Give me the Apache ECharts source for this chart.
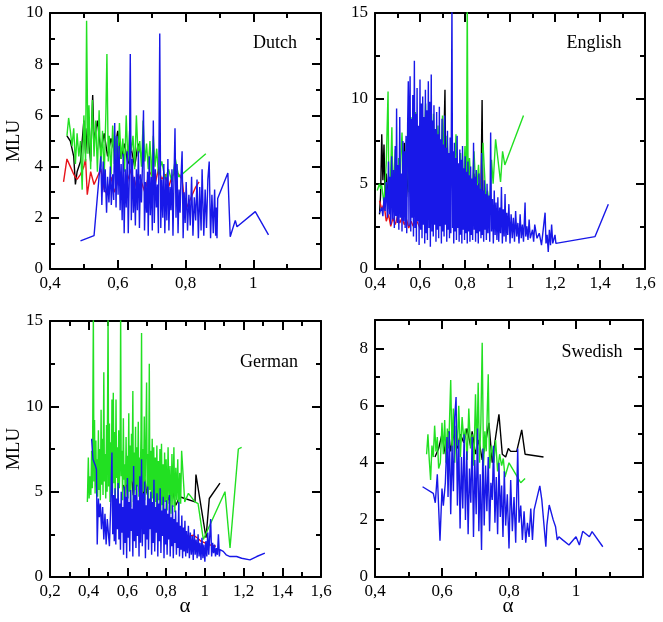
<!DOCTYPE html>
<html><head><meta charset="utf-8">
<script src="https://cdn.jsdelivr.net/npm/echarts@6/dist/echarts.min.js"></script>
<style>html,body{margin:0;padding:0;background:#fff}#c{width:663px;height:622px}</style>
</head><body><div id="c"></div>
<script>
// ---------------- DATA (alpha, MLU) ----------------
const panelNames = ['Dutch', 'English', 'German', 'Swedish'];
// axis ranges: [min, max, major, minor]
const dutchX = [0.4, 1.2, 0.2, 0.1], dutchY = [0, 10, 2, 1];
const englishX = [0.4, 1.6, 0.2, 0.1], englishY = [0, 15, 5, 2.5];
const germanX = [0.2, 1.6, 0.2, 0.1], germanY = [0, 15, 5, 2.5];
const swedishX = [0.4, 1.2, 0.2, 0.1], swedishY = [0, 9, 2, 1];

const dutchBlack = [[0.45,5.2],[0.46,5.0],[0.47,4.4],[0.475,3.3],[0.48,3.8],[0.49,4.2],[0.5,5.8],[0.505,4.5],[0.51,5.5],[0.52,4.2],[0.526,6.8],[0.53,5.0],[0.54,5.8],[0.55,4.6],[0.56,5.3],[0.57,4.4],[0.58,5.1],[0.59,4.6],[0.6,5.4],[0.61,4.3],[0.62,4.9],[0.63,4.1],[0.64,4.7],[0.65,4.0],[0.66,4.9],[0.67,4.4],[0.68,4.6]];
const dutchRed = [[0.44,3.4],[0.45,4.3],[0.46,4.0],[0.47,3.7],[0.48,3.5],[0.49,3.7],[0.5,4.0],[0.505,4.3],[0.51,2.9],[0.52,3.8],[0.53,3.3],[0.54,3.6],[0.55,3.9],[0.56,3.1],[0.57,2.9],[0.58,3.6],[0.59,3.0],[0.6,3.4],[0.61,3.8],[0.62,2.8],[0.63,3.5],[0.64,3.9],[0.65,3.2],[0.66,3.7],[0.67,3.4],[0.68,3.0],[0.69,3.6],[0.7,3.8],[0.71,3.3],[0.72,3.9],[0.73,3.5],[0.74,3.7],[0.75,3.2],[0.76,3.6],[0.77,3.8],[0.78,3.7],[0.79,3.5],[0.8,2.3],[0.81,2.6],[0.82,2.9],[0.83,3.2],[0.84,3.4]];
const dutchGreen = [[0.45,5.2],[0.455,5.9],[0.46,5.4],[0.465,4.8],[0.47,5.5],[0.475,4.1],[0.48,5.3],[0.485,4.4],[0.49,5.0],[0.495,3.1],[0.5,6.0],[0.505,4.2],[0.508,9.7],[0.512,4.5],[0.515,6.4],[0.52,3.9],[0.525,6.6],[0.53,4.4],[0.535,5.8],[0.54,3.8],[0.545,6.2],[0.55,4.0],[0.555,5.4],[0.56,3.6],[0.565,6.1],[0.568,8.4],[0.572,4.2],[0.575,5.2],[0.58,3.7],[0.585,5.6],[0.59,4.1],[0.595,5.2],[0.6,3.9],[0.605,5.7],[0.61,4.3],[0.615,5.1],[0.62,3.8],[0.625,6.0],[0.63,4.2],[0.635,5.4],[0.64,4.6],[0.645,5.2],[0.65,3.9],[0.655,6.0],[0.66,4.4],[0.665,5.0],[0.67,4.0],[0.675,5.8],[0.68,4.2],[0.685,4.9],[0.69,3.9],[0.695,5.0],[0.7,3.6],[0.705,5.2],[0.71,4.0],[0.715,4.7],[0.72,3.7],[0.73,4.2],[0.74,3.5],[0.75,3.9],[0.76,3.4],[0.77,4.3],[0.78,3.6],[0.79,3.7],[0.86,4.5]];
const dutchBlue = [[0.49,1.1],[0.53,1.3],[0.55,4.4],[0.553,2.5],[0.557,4.2],[0.56,3.0],[0.563,3.9],[0.567,2.2],[0.57,3.6],[0.574,2.6],[0.578,4.0],[0.581,2.5],[0.585,3.7],[0.588,2.7],[0.591,5.7],[0.595,2.4],[0.598,5.2],[0.601,2.9],[0.604,4.8],[0.607,2.3],[0.61,4.1],[0.613,1.9],[0.616,4.5],[0.619,1.4],[0.622,3.9],[0.625,2.4],[0.628,4.6],[0.631,1.4],[0.634,3.5],[0.637,8.4],[0.64,1.9],[0.643,4.3],[0.646,2.2],[0.649,3.6],[0.652,1.7],[0.655,3.9],[0.658,2.3],[0.661,4.6],[0.664,1.6],[0.667,3.7],[0.67,2.6],[0.673,4.1],[0.676,6.2],[0.679,1.5],[0.682,3.4],[0.685,2.2],[0.688,3.8],[0.69,1.3],[0.693,4.4],[0.696,2.1],[0.699,3.6],[0.702,1.5],[0.705,5.8],[0.708,1.8],[0.711,3.9],[0.714,2.4],[0.717,3.3],[0.72,1.4],[0.724,9.2],[0.727,1.6],[0.73,3.5],[0.733,2.0],[0.736,4.1],[0.739,1.4],[0.742,3.6],[0.745,1.9],[0.748,4.3],[0.751,1.5],[0.754,3.2],[0.757,2.3],[0.76,3.9],[0.763,1.3],[0.766,3.5],[0.769,5.5],[0.772,2.0],[0.775,4.1],[0.778,1.4],[0.781,3.1],[0.784,2.2],[0.787,3.7],[0.79,4.6],[0.793,1.2],[0.796,3.0],[0.799,1.8],[0.802,3.4],[0.806,1.5],[0.81,2.9],[0.814,1.7],[0.818,3.6],[0.822,1.3],[0.826,2.8],[0.83,1.9],[0.834,3.5],[0.838,1.2],[0.842,3.2],[0.846,1.5],[0.849,3.9],[0.854,1.3],[0.858,3.1],[0.862,1.6],[0.866,3.5],[0.87,4.2],[0.874,1.2],[0.878,2.9],[0.882,1.4],[0.886,3.1],[0.889,1.3],[0.891,2.4],[0.893,1.2],[0.895,2.75],[0.925,3.75],[0.932,1.26],[0.947,1.9],[0.952,1.65],[1.006,2.24],[1.045,1.33]];

const englishBlack = [[0.42,3.2],[0.425,4.4],[0.43,7.9],[0.435,5.2],[0.44,7.3],[0.445,4.1],[0.45,5.6],[0.46,3.8],[0.47,5.1],[0.48,3.5],[0.49,6.2],[0.5,4.0],[0.51,5.5],[0.52,3.6],[0.53,7.4],[0.54,4.2],[0.55,6.1],[0.56,3.9],[0.57,6.6],[0.58,4.3],[0.59,7.1],[0.6,3.8],[0.61,6.4],[0.62,4.5],[0.63,7.0],[0.64,4.0],[0.65,6.3],[0.66,3.7],[0.67,6.8],[0.68,4.4],[0.69,5.9],[0.7,3.6],[0.711,10.5],[0.715,4.1],[0.72,6.2],[0.73,3.5],[0.74,5.7],[0.75,3.9],[0.76,6.0],[0.77,3.4],[0.78,5.5],[0.79,3.8],[0.8,5.9],[0.81,3.3],[0.82,5.2],[0.83,3.7],[0.84,5.6],[0.85,3.2],[0.86,5.0],[0.87,3.6],[0.876,9.9],[0.88,3.4],[0.89,4.6],[0.9,3.1]];
const englishRed = [[0.42,4.0],[0.43,3.5],[0.44,3.8],[0.45,2.8],[0.46,3.2],[0.47,2.5],[0.48,3.0],[0.49,2.6],[0.5,3.1],[0.51,2.7],[0.52,3.0],[0.53,2.6],[0.54,2.9],[0.55,2.4],[0.56,2.8],[0.57,2.5],[0.58,2.9],[0.59,2.7],[0.6,2.4]];
const englishGreen = [[0.41,4.6],[0.42,5.0],[0.425,4.7],[0.43,4.9],[0.44,3.8],[0.45,6.2],[0.458,10.4],[0.462,3.5],[0.47,5.8],[0.475,8.3],[0.48,4.2],[0.49,7.0],[0.5,3.9],[0.505,6.5],[0.51,4.8],[0.52,8.0],[0.53,3.7],[0.54,7.6],[0.55,4.5],[0.56,8.9],[0.57,4.1],[0.58,9.2],[0.59,4.8],[0.6,8.5],[0.61,3.9],[0.625,9.7],[0.63,4.6],[0.64,8.8],[0.65,5.0],[0.66,9.1],[0.67,4.4],[0.68,8.4],[0.69,5.2],[0.7,9.0],[0.71,4.3],[0.72,7.8],[0.73,4.9],[0.74,7.5],[0.75,4.1],[0.76,7.9],[0.77,4.6],[0.78,6.8],[0.79,4.0],[0.8,7.2],[0.806,3.9],[0.81,16],[0.814,4.4],[0.82,6.5],[0.83,3.8],[0.84,6.9],[0.85,4.2],[0.86,6.1],[0.87,3.6],[0.88,7.4],[0.893,4.0],[0.9,4.6],[0.91,3.5],[0.918,6.4],[0.925,5.0],[0.936,7.6],[0.958,5.1],[0.967,6.9],[0.977,6.1],[1.06,9.0]];
const englishBlue = [[0.42,3.3],[0.43,3.6],[0.435,3.1],[0.44,4.2],[0.445,3.4],[0.45,5.1],[0.455,3.0],[0.46,6.3],[0.463,3.2],[0.467,5.4],[0.47,2.6],[0.474,6.6],[0.478,2.9],[0.482,5.8],[0.486,2.4],[0.49,7.2],[0.493,3.1],[0.496,9.4],[0.499,2.7],[0.503,6.1],[0.506,2.3],[0.51,8.9],[0.513,3.0],[0.517,5.6],[0.52,2.2],[0.524,7.5],[0.527,2.8],[0.531,6.9],[0.534,2.4],[0.538,7.8],[0.541,2.1],[0.545,8.4],[0.548,11.0],[0.551,2.5],[0.554,9.6],[0.556,11.3],[0.559,2.2],[0.562,8.8],[0.565,3.0],[0.568,10.2],[0.571,1.9],[0.575,12.2],[0.578,2.4],[0.581,9.1],[0.584,1.6],[0.587,10.6],[0.59,2.8],[0.593,8.4],[0.596,1.4],[0.6,11.1],[0.603,2.3],[0.606,9.7],[0.609,1.8],[0.612,10.1],[0.615,2.6],[0.618,8.9],[0.621,1.5],[0.624,10.5],[0.627,2.1],[0.63,9.3],[0.633,1.7],[0.637,11.0],[0.64,2.4],[0.643,9.8],[0.646,1.3],[0.65,11.4],[0.653,2.2],[0.656,8.7],[0.659,1.9],[0.662,9.6],[0.665,2.6],[0.668,8.2],[0.671,1.6],[0.674,9.2],[0.677,2.3],[0.68,7.9],[0.683,1.8],[0.686,9.5],[0.689,2.5],[0.692,7.6],[0.695,1.5],[0.698,8.8],[0.701,2.2],[0.704,7.3],[0.707,1.9],[0.71,9.0],[0.713,2.6],[0.716,7.1],[0.719,1.6],[0.722,8.1],[0.725,2.3],[0.728,6.8],[0.731,1.8],[0.734,7.7],[0.737,2.1],[0.742,15.5],[0.745,2.4],[0.747,6.9],[0.75,1.5],[0.753,7.4],[0.756,2.2],[0.759,6.5],[0.762,1.7],[0.765,7.8],[0.768,2.4],[0.771,6.2],[0.774,1.6],[0.777,7.0],[0.78,2.0],[0.783,6.4],[0.786,1.5],[0.789,7.2],[0.792,2.3],[0.795,5.9],[0.798,1.7],[0.801,6.6],[0.804,2.1],[0.807,5.7],[0.81,1.5],[0.813,6.3],[0.816,2.2],[0.819,5.5],[0.822,1.6],[0.825,6.0],[0.828,2.0],[0.831,5.3],[0.834,1.7],[0.838,7.4],[0.841,2.3],[0.844,5.4],[0.847,1.6],[0.85,5.8],[0.853,2.1],[0.856,4.9],[0.859,1.5],[0.862,5.6],[0.865,2.2],[0.868,4.7],[0.871,1.8],[0.874,6.8],[0.877,2.0],[0.88,4.6],[0.883,1.6],[0.886,5.2],[0.889,2.3],[0.892,4.4],[0.895,1.7],[0.898,5.0],[0.902,2.1],[0.906,4.3],[0.91,1.6],[0.914,8.0],[0.918,2.2],[0.922,4.1],[0.926,1.5],[0.93,4.6],[0.934,2.0],[0.938,3.9],[0.942,1.7],[0.946,4.2],[0.95,1.6],[0.954,3.6],[0.958,2.1],[0.962,4.8],[0.966,1.5],[0.97,3.5],[0.974,1.9],[0.978,4.4],[0.982,1.6],[0.986,3.3],[0.99,2.0],[0.995,3.8],[1.0,1.5],[1.005,3.2],[1.01,1.8],[1.015,3.0],[1.02,1.6],[1.025,3.4],[1.03,1.9],[1.035,2.7],[1.04,1.5],[1.045,3.2],[1.05,1.8],[1.055,2.6],[1.06,1.6],[1.067,3.9],[1.07,1.9],[1.075,2.5],[1.08,1.7],[1.085,2.9],[1.09,1.8],[1.1,2.3],[1.105,1.6],[1.11,2.6],[1.12,1.8],[1.13,2.1],[1.14,1.4],[1.156,3.3],[1.16,1.5],[1.165,2.0],[1.17,1.0],[1.175,2.3],[1.18,1.4],[1.185,2.6],[1.19,1.5],[1.2,2.0],[1.204,1.5],[1.378,1.9],[1.437,3.8]];

const germanBlack = [[0.58,5.4],[0.59,4.7],[0.6,7.0],[0.61,5.2],[0.62,6.1],[0.63,4.8],[0.64,5.8],[0.648,6.9],[0.66,5.0],[0.67,6.2],[0.68,4.6],[0.69,5.7],[0.7,4.9],[0.72,6.0],[0.74,5.1],[0.75,6.4],[0.77,4.8],[0.79,5.5],[0.81,4.5],[0.83,5.2],[0.85,4.2],[0.87,4.7],[0.897,4.6],[0.949,4.4],[0.954,6.0],[1.006,2.3],[1.023,4.6],[1.078,5.5]];
const germanRed = [[0.86,2.6],[0.88,2.4],[0.897,2.3],[0.94,2.45],[0.96,2.3],[0.98,2.1],[1.0,2.0],[1.02,1.9],[1.057,1.8]];
const germanGreen = [[0.393,4.4],[0.398,7.0],[0.402,4.6],[0.407,5.9],[0.411,4.8],[0.415,7.4],[0.419,5.2],[0.424,15.5],[0.427,5.6],[0.43,9.2],[0.433,4.9],[0.437,8.0],[0.44,5.3],[0.443,6.9],[0.446,4.7],[0.45,8.6],[0.453,5.1],[0.457,7.5],[0.46,4.5],[0.464,9.8],[0.467,5.4],[0.471,8.1],[0.474,4.8],[0.478,12.0],[0.481,5.6],[0.485,7.2],[0.488,4.6],[0.492,8.9],[0.495,5.0],[0.5,15.5],[0.503,5.3],[0.507,9.0],[0.51,4.4],[0.514,7.9],[0.517,5.7],[0.52,10.4],[0.523,4.9],[0.527,10.8],[0.53,5.5],[0.534,8.5],[0.537,4.3],[0.541,10.4],[0.544,5.8],[0.548,7.6],[0.551,4.6],[0.555,8.6],[0.558,5.2],[0.562,6.8],[0.565,15.5],[0.568,5.9],[0.572,7.4],[0.575,4.5],[0.579,9.3],[0.582,5.7],[0.586,6.6],[0.589,4.2],[0.593,8.2],[0.596,5.4],[0.6,7.1],[0.603,4.6],[0.607,9.6],[0.61,5.0],[0.614,7.7],[0.617,4.1],[0.621,8.4],[0.624,5.6],[0.628,10.9],[0.631,4.4],[0.635,7.3],[0.638,5.1],[0.642,8.8],[0.645,4.0],[0.649,7.6],[0.652,5.3],[0.656,9.1],[0.659,4.7],[0.663,7.0],[0.666,5.5],[0.67,8.2],[0.673,14.3],[0.676,4.3],[0.68,7.5],[0.683,5.0],[0.687,9.4],[0.69,4.5],[0.695,7.8],[0.699,11.4],[0.702,4.8],[0.706,7.2],[0.709,4.2],[0.713,12.5],[0.716,5.1],[0.72,7.4],[0.724,4.0],[0.728,8.1],[0.732,4.6],[0.736,7.6],[0.74,3.9],[0.744,7.0],[0.748,4.4],[0.752,7.7],[0.756,3.8],[0.76,6.8],[0.764,4.5],[0.768,7.5],[0.772,3.7],[0.776,7.8],[0.78,4.2],[0.784,6.6],[0.788,3.6],[0.792,7.3],[0.796,4.4],[0.8,6.9],[0.805,3.9],[0.81,7.6],[0.815,4.3],[0.82,6.5],[0.825,3.7],[0.83,7.2],[0.835,4.1],[0.84,7.6],[0.845,3.8],[0.85,6.4],[0.855,4.5],[0.86,6.9],[0.865,3.9],[0.87,6.1],[0.875,4.3],[0.88,7.4],[0.889,7.5],[0.896,4.4],[0.915,4.9],[0.949,4.4],[0.965,4.3],[0.992,2.2],[1.104,5.0],[1.13,1.7],[1.164,6.3],[1.173,7.5],[1.19,7.6]];
const germanBlue = [[0.415,8.1],[0.422,6.9],[0.428,7.0],[0.435,6.5],[0.44,6.3],[0.444,1.9],[0.45,4.6],[0.455,3.5],[0.46,4.3],[0.466,2.8],[0.472,4.1],[0.478,2.2],[0.484,3.7],[0.49,1.9],[0.496,3.4],[0.502,2.5],[0.507,1.8],[0.513,3.9],[0.52,7.3],[0.524,2.5],[0.528,4.8],[0.532,2.1],[0.536,5.2],[0.54,1.9],[0.544,4.6],[0.548,2.8],[0.552,5.5],[0.556,2.2],[0.56,4.3],[0.564,1.6],[0.568,5.0],[0.572,2.6],[0.576,4.1],[0.58,1.3],[0.584,5.3],[0.588,2.0],[0.592,4.7],[0.596,1.1],[0.6,5.8],[0.604,2.3],[0.608,4.4],[0.612,1.5],[0.616,5.1],[0.62,2.7],[0.624,4.0],[0.628,1.2],[0.632,6.5],[0.636,2.1],[0.64,4.8],[0.644,1.7],[0.648,5.4],[0.652,2.4],[0.656,4.5],[0.66,1.2],[0.664,5.9],[0.668,2.0],[0.673,6.9],[0.677,1.8],[0.681,4.9],[0.685,2.5],[0.689,5.6],[0.693,1.1],[0.697,4.2],[0.701,2.2],[0.705,5.3],[0.709,1.6],[0.713,4.6],[0.717,2.8],[0.721,5.0],[0.725,1.3],[0.729,4.4],[0.733,2.0],[0.737,5.7],[0.741,1.5],[0.745,4.1],[0.749,2.6],[0.753,4.9],[0.757,1.2],[0.761,4.3],[0.765,2.1],[0.769,5.2],[0.773,1.4],[0.777,3.9],[0.781,2.4],[0.785,4.7],[0.789,1.1],[0.793,4.0],[0.797,1.9],[0.801,4.5],[0.805,1.3],[0.809,3.7],[0.813,2.2],[0.817,4.8],[0.821,1.2],[0.825,3.5],[0.829,1.8],[0.833,4.2],[0.837,1.1],[0.841,3.4],[0.845,2.0],[0.849,3.9],[0.853,1.3],[0.857,3.2],[0.861,1.7],[0.865,4.4],[0.869,1.2],[0.873,3.0],[0.877,1.6],[0.881,3.6],[0.885,1.1],[0.889,2.9],[0.893,1.5],[0.897,3.3],[0.901,1.2],[0.905,2.7],[0.91,1.4],[0.915,3.0],[0.92,1.1],[0.925,2.6],[0.93,1.3],[0.935,2.4],[0.94,1.0],[0.945,2.8],[0.95,1.3],[0.955,2.2],[0.96,1.1],[0.965,2.5],[0.97,1.2],[0.975,2.0],[0.98,1.0],[0.985,2.3],[0.99,1.1],[0.995,1.9],[1.0,0.9],[1.005,2.1],[1.01,1.2],[1.015,2.6],[1.02,1.3],[1.03,3.4],[1.035,1.2],[1.04,2.0],[1.045,1.4],[1.05,1.9],[1.055,1.2],[1.06,1.7],[1.065,1.3],[1.07,2.5],[1.075,1.2],[1.078,1.6],[1.095,1.5],[1.11,1.3],[1.13,1.2],[1.164,1.2],[1.19,1.1],[1.233,1.0],[1.268,1.2],[1.31,1.4]];

const swedishBlack = [[0.579,4.2],[0.59,4.5],[0.6,5.0],[0.61,4.3],[0.62,5.1],[0.625,4.4],[0.635,5.0],[0.645,4.5],[0.655,5.0],[0.665,4.7],[0.675,5.2],[0.685,4.6],[0.69,5.1],[0.7,4.3],[0.71,4.8],[0.72,4.1],[0.73,4.7],[0.74,5.4],[0.75,4.0],[0.76,4.9],[0.77,5.7],[0.78,4.3],[0.79,4.2],[0.798,4.5],[0.805,4.4],[0.823,4.4],[0.838,5.15],[0.848,4.3],[0.903,4.2]];
const swedishGreen = [[0.554,4.3],[0.558,5.0],[0.562,4.1],[0.566,3.4],[0.57,4.6],[0.574,4.2],[0.578,5.3],[0.582,4.4],[0.586,4.9],[0.59,3.8],[0.595,4.0],[0.6,5.4],[0.604,4.3],[0.608,5.5],[0.612,4.0],[0.616,5.2],[0.62,4.5],[0.626,6.9],[0.63,4.4],[0.634,5.9],[0.638,4.0],[0.642,5.3],[0.646,4.6],[0.65,6.0],[0.655,4.2],[0.66,5.6],[0.665,4.8],[0.67,5.2],[0.675,4.1],[0.68,5.9],[0.685,4.5],[0.69,5.0],[0.695,3.9],[0.7,6.4],[0.704,4.3],[0.708,6.8],[0.712,4.0],[0.716,5.4],[0.72,8.2],[0.724,3.9],[0.728,5.1],[0.732,4.4],[0.738,7.1],[0.742,3.8],[0.748,4.6],[0.755,4.0],[0.76,4.8],[0.766,3.7],[0.772,4.3],[0.778,3.9],[0.783,4.15],[0.788,3.5],[0.8,4.0],[0.82,3.6],[0.835,3.3],[0.848,3.45]];
const swedishBlue = [[0.542,3.16],[0.574,2.93],[0.58,2.6],[0.586,3.6],[0.594,1.27],[0.6,3.1],[0.604,2.5],[0.61,3.3],[0.615,4.9],[0.618,2.8],[0.622,5.1],[0.626,2.2],[0.63,4.6],[0.634,3.0],[0.638,5.6],[0.642,6.3],[0.646,2.5],[0.65,4.8],[0.654,1.7],[0.658,4.2],[0.662,2.4],[0.666,5.0],[0.67,2.0],[0.674,4.4],[0.678,1.5],[0.682,3.8],[0.686,2.6],[0.69,4.9],[0.694,1.4],[0.698,4.1],[0.702,2.2],[0.706,5.2],[0.71,1.6],[0.714,3.6],[0.718,0.95],[0.722,4.5],[0.726,1.8],[0.73,3.9],[0.734,2.3],[0.738,4.2],[0.742,1.6],[0.746,3.3],[0.75,2.7],[0.754,4.6],[0.758,1.9],[0.762,3.5],[0.766,1.5],[0.77,4.0],[0.774,2.1],[0.778,3.2],[0.782,1.4],[0.786,3.7],[0.79,1.8],[0.795,2.9],[0.8,1.0],[0.805,3.4],[0.81,1.6],[0.815,2.8],[0.82,1.2],[0.826,4.5],[0.83,1.9],[0.835,2.5],[0.84,1.3],[0.845,2.3],[0.85,1.2],[0.855,1.9],[0.86,1.4],[0.865,2.4],[0.87,1.3],[0.875,2.35],[0.88,2.4],[0.892,3.19],[0.898,2.7],[0.91,1.06],[0.913,1.8],[0.92,2.52],[0.932,2.0],[0.939,1.76],[0.944,1.3],[0.949,1.41],[0.96,1.3],[0.979,1.12],[1.0,1.41],[1.01,1.12],[1.02,1.6],[1.04,1.41],[1.048,1.59],[1.08,1.06]];

const seriesColors = ['#000000', '#e8141a', '#22e022', '#1818e8'];
const panelSeries = [
  [dutchBlack, dutchRed, dutchGreen, dutchBlue],
  [englishBlack, englishRed, englishGreen, englishBlue],
  [germanBlack, germanRed, germanGreen, germanBlue],
  [swedishBlack, null, swedishGreen, swedishBlue]
];
const panelX = [dutchX, englishX, germanX, swedishX];
const panelY = [dutchY, englishY, germanY, swedishY];
const hideMaxX = [true, false, false, true];

// ---------------- LAYOUT ----------------
const grids = [
  {left: 50, top: 13, width: 271, height: 256},
  {left: 375, top: 13, width: 270, height: 256},
  {left: 50, top: 321, width: 271, height: 256},
  {left: 375, top: 320, width: 268, height: 257}
];
const FONT = 'Liberation Serif, Times New Roman, serif';
const fmt = v => String(Math.round(v * 10) / 10).replace('.', ',');

const xAxes = [], yAxes = [], series = [];
grids.forEach((g, i) => {
  const [xmin, xmax, xmaj, xmin2] = panelX[i];
  const [ymin, ymax, ymaj, ymin2] = panelY[i];
  const base = {
    gridIndex: i, type: 'value', splitLine: {show: false},
    axisLine: {onZero: false, lineStyle: {color: '#000', width: 2}}
  };
  const majTick = {show: true, inside: true, length: 9, lineStyle: {color: '#000', width: 2}};
  const minTick = {show: true, inside: true, length: 5, lineStyle: {color: '#000', width: 2}};
  const mainX = xAxes.length;
  // x bottom major (labels)
  xAxes.push(Object.assign({}, base, {position: 'bottom', min: xmin, max: xmax, interval: xmaj,
    axisTick: majTick,
    axisLabel: {show: true, margin: 6, color: '#000', fontFamily: FONT, fontSize: 17,
      showMaxLabel: !hideMaxX[i], formatter: fmt}}));
  // x bottom minor
  xAxes.push(Object.assign({}, base, {position: 'bottom', min: xmin, max: xmax, interval: xmin2,
    axisLine: {show: false, onZero: false}, axisTick: minTick, axisLabel: {show: false}}));
  // x top major/minor
  xAxes.push(Object.assign({}, base, {position: 'top', min: xmin, max: xmax, interval: xmaj,
    axisTick: majTick, axisLabel: {show: false}}));
  xAxes.push(Object.assign({}, base, {position: 'top', min: xmin, max: xmax, interval: xmin2,
    axisLine: {show: false, onZero: false}, axisTick: minTick, axisLabel: {show: false}}));
  const mainY = yAxes.length;
  yAxes.push(Object.assign({}, base, {position: 'left', min: ymin, max: ymax, interval: ymaj,
    axisTick: majTick,
    axisLabel: {show: true, margin: 7, color: '#000', fontFamily: FONT, fontSize: 17,
      showMaxLabel: (ymax % ymaj === 0), formatter: fmt}}));
  yAxes.push(Object.assign({}, base, {position: 'left', min: ymin, max: ymax, interval: ymin2,
    axisLine: {show: false, onZero: false}, axisTick: minTick, axisLabel: {show: false}}));
  yAxes.push(Object.assign({}, base, {position: 'right', min: ymin, max: ymax, interval: ymaj,
    axisTick: majTick, axisLabel: {show: false}}));
  yAxes.push(Object.assign({}, base, {position: 'right', min: ymin, max: ymax, interval: ymin2,
    axisLine: {show: false, onZero: false}, axisTick: minTick, axisLabel: {show: false}}));

  panelSeries[i].forEach((d, k) => {
    if (!d) return;
    series.push({
      type: 'line', xAxisIndex: mainX, yAxisIndex: mainY, data: d,
      showSymbol: false, symbol: 'none', clip: true, animation: false,
      lineStyle: {color: seriesColors[k], width: 1.4}, z: 2 + k
    });
  });
});

const textStyle = (t, size) => ({text: t, font: size + 'px ' + FONT, fill: '#000', align: 'center', verticalAlign: 'middle'});
const graphic = [
  {type: 'text', x: 275, y: 43, style: textStyle('Dutch', 18)},
  {type: 'text', x: 594, y: 43, style: textStyle('English', 18)},
  {type: 'text', x: 269, y: 362, style: textStyle('German', 18)},
  {type: 'text', x: 592, y: 352, style: textStyle('Swedish', 18)},
  {type: 'text', x: 14, y: 141, rotation: Math.PI / 2, style: textStyle('MLU', 19)},
  {type: 'text', x: 14, y: 449, rotation: Math.PI / 2, style: textStyle('MLU', 19)},
  {type: 'text', x: 185, y: 606, style: textStyle('α', 21)},
  {type: 'text', x: 508, y: 606, style: textStyle('α', 21)}
];

const chart = echarts.init(document.getElementById('c'), null, {renderer: 'canvas'});
chart.setOption({
  animation: false, backgroundColor: '#fff',
  grid: grids.map(g => Object.assign({containLabel: false}, g)),
  xAxis: xAxes, yAxis: yAxes, series: series, graphic: graphic
});
</script></body></html>
